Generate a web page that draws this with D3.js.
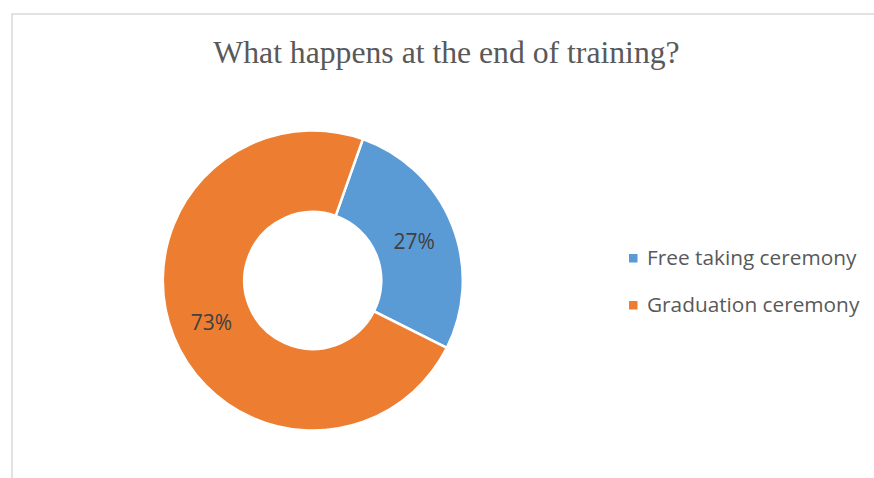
<!DOCTYPE html>
<html>
<head>
<meta charset="utf-8">
<script src="https://cdn.jsdelivr.net/npm/d3@7"></script>
<style>
  html, body { margin: 0; padding: 0; background: #fff; }
  svg { display: block; }
</style>
</head>
<body>
<svg id="chart" width="874" height="478"></svg>
<script>
const title = "What happens at the end of training?";
const categories = ["Free taking ceremony", "Graduation ceremony"];
const values = [27, 73];
const colors = ["#5B9BD5", "#ED7D31"];

const svg = d3.select("#chart");
const W = 874, H = 478;

// chart frame (partially visible)
svg.append("path")
  .attr("d", `M12,${H} L12,14 L${W},14`)
  .attr("fill", "none")
  .attr("stroke", "#d9d9d9")
  .attr("stroke-width", 1.5);

// title
svg.append("text")
  .attr("x", 446.5).attr("y", 63)
  .attr("text-anchor", "middle")
  .attr("font-family", "'Liberation Serif', 'Times New Roman', serif")
  .attr("font-size", 31.7)
  .attr("fill", "#595959")
  .text(title);

const cx = 312.8, cy = 280.5;
const outerR = 150, innerR = 68.5;
const startDeg = 19.5;

const pie = d3.pie().sort(null).value(d => d)
  .startAngle(startDeg * Math.PI / 180)
  .endAngle((startDeg + 360) * Math.PI / 180);
const arcs = pie(values);
const arc = d3.arc().innerRadius(innerR).outerRadius(outerR);
const labelArc = d3.arc().innerRadius((innerR + outerR) / 2).outerRadius((innerR + outerR) / 2);

const g = svg.append("g").attr("transform", `translate(${cx},${cy})`);
g.selectAll("path.slice").data(arcs).enter().append("path")
  .attr("class", "slice")
  .attr("d", arc)
  .attr("fill", (d, i) => colors[i])
  .attr("stroke", "#fff")
  .attr("stroke-width", 2.5)
  .attr("stroke-linejoin", "miter");

const total = d3.sum(values);
g.selectAll("text.lbl").data(arcs).enter().append("text")
  .attr("class", "lbl")
  .attr("transform", d => { const c = labelArc.centroid(d); return `translate(${c[0]},${c[1] + 1.5})`; })
  .attr("text-anchor", "middle")
  .attr("dy", "0.36em")
  .attr("font-family", "'Open Sans', Lato, sans-serif")
  .attr("font-size", 21)
  .attr("fill", "#404040")
  .text(d => Math.round(d.data / total * 100) + "%");

// legend
const legend = svg.append("g");
const rows = legend.selectAll("g").data(categories).enter().append("g")
  .attr("transform", (d, i) => `translate(629,${254 + i * 47})`);
rows.append("rect")
  .attr("width", 8.5).attr("height", 8.5)
  .attr("fill", (d, i) => colors[i]);
rows.append("text")
  .attr("x", 18).attr("y", 11)
  .attr("font-family", "'Open Sans', Lato, sans-serif")
  .attr("font-size", 20.8)
  .attr("fill", "#595959")
  .text(d => d);
</script>
</body>
</html>
